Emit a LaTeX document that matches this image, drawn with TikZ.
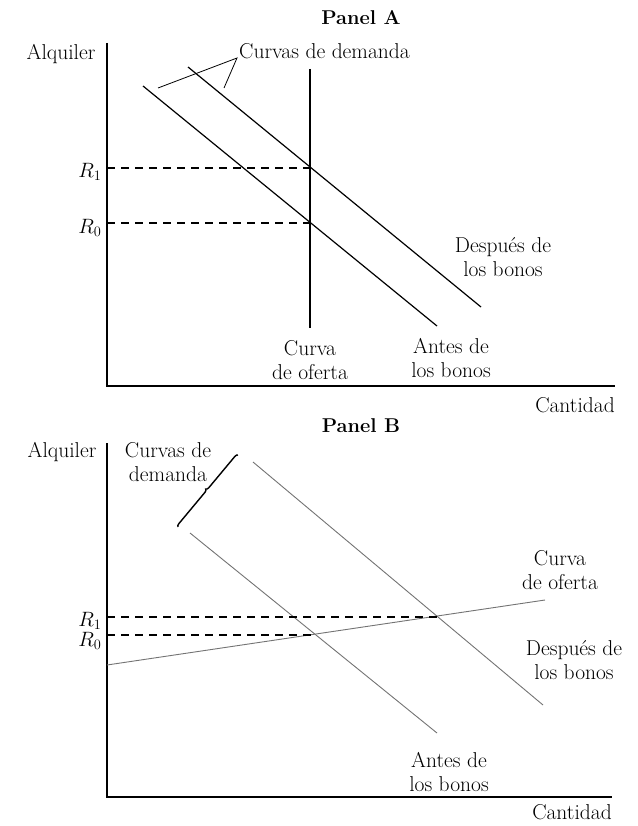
\documentclass[tikz,border=0pt]{standalone}
\usetikzlibrary{decorations.pathreplacing}
\begin{document}
\begin{tikzpicture}[x=1pt,y=-1pt,
  lbl/.style={inner sep=0pt,font=\fontsize{21.5}{24}\selectfont,align=center},
  ttl/.style={inner sep=0pt,font=\fontsize{20}{23}\selectfont\bfseries},
  axisln/.style={line width=1.5pt},
  curveA/.style={line width=1.2pt},
  curveB/.style={line width=0.9pt,black!55},
  guide/.style={line width=1.2pt,dash pattern=on 8pt off 6pt},
  pointer/.style={line width=0.8pt}]
\useasboundingbox (0,0) rectangle (637,826);
% ---------------- Panel A ----------------
\node[ttl] (tA) at (361,18) {Panel A};
\node[lbl] (alqA) at (61,54) {Alquiler};
\coordinate (oA) at (107,386);
\coordinate (yA) at (107,43);
\coordinate (xA) at (615,386);
\draw[axisln] (yA) -- (oA) -- (xA);
\node[lbl] (cantA) at (575,405) {Cantidad};
\coordinate (sA1) at (310,69);
\coordinate (sA2) at (310,328);
\draw[curveA] (sA1) -- (sA2);
\coordinate (aA1) at (143,86);
\coordinate (aA2) at (437,326);
\draw[curveA] (aA1) -- (aA2);
\coordinate (dA1) at (188,67);
\coordinate (dA2) at (481,307);
\draw[curveA] (dA1) -- (dA2);
\coordinate (r1Aa) at (107,168);
\coordinate (r1Ab) at (310,168);
\coordinate (r0Aa) at (107,223);
\coordinate (r0Ab) at (310,223);
\draw[guide] (r1Aa) -- (r1Ab);
\draw[guide] (r0Aa) -- (r0Ab);
\node[lbl] (R1A) at (90,172) {$R_1$};
\node[lbl] (R0A) at (90,228) {$R_0$};
\node[lbl,anchor=west] (cdA) at (239,51) {Curvas de demanda};
\coordinate (pv) at (237,58);
\coordinate (p1) at (158,88);
\coordinate (p2) at (224,88);
\draw[pointer] (p1) -- (pv) -- (p2);
\node[lbl] (despA) at (503,257) {Después de\\los bonos};
\node[lbl] (ofA) at (310,360) {Curva\\de oferta};
\node[lbl] (antA) at (451,358) {Antes de\\los bonos};
% ---------------- Panel B ----------------
\node[ttl] (tB) at (361,426) {Panel B};
\node[lbl] (alqB) at (62,452) {Alquiler};
\coordinate (oB) at (107,797);
\coordinate (yB) at (107,443);
\coordinate (xB) at (612,797);
\draw[axisln] (yB) -- (oB) -- (xB);
\node[lbl] (cantB) at (572,812) {Cantidad};
\coordinate (aB1) at (190,533);
\coordinate (aB2) at (437,733);
\draw[curveB] (aB1) -- (aB2);
\coordinate (dB1) at (253,462);
\coordinate (dB2) at (543,705);
\draw[curveB] (dB1) -- (dB2);
\coordinate (sB1) at (107,665);
\coordinate (sB2) at (545,600);
\draw[curveB] (sB1) -- (sB2);
\coordinate (r1Ba) at (107,617);
\coordinate (r1Bb) at (437,617);
\coordinate (r0Ba) at (107,635);
\coordinate (r0Bb) at (315,635);
\draw[guide] (r1Ba) -- (r1Bb);
\draw[guide] (r0Ba) -- (r0Bb);
\node[lbl] (R1B) at (90,621) {$R_1$};
\node[lbl] (R0B) at (90,641) {$R_0$};
\node[lbl] (cdB) at (168,462) {Curvas de\\demanda};
\coordinate (b1) at (178,527);
\coordinate (b2) at (238,455);
\draw[line width=1.4pt,decorate,decoration={brace,amplitude=3pt}] (b1) -- (b2);
\node[lbl] (ofB) at (560,570) {Curva\\de oferta};
\node[lbl] (despB) at (574,660) {Después de\\los bonos};
\node[lbl] (antB) at (449,772) {Antes de\\los bonos};
\end{tikzpicture}
\end{document}
